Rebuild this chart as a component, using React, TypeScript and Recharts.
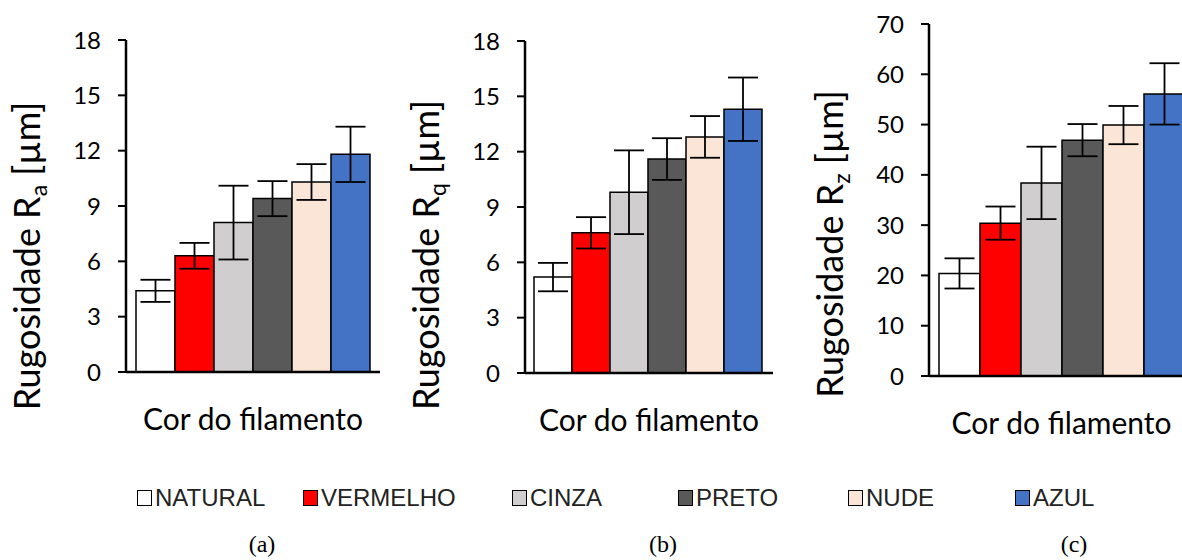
import { BarChart, Bar, XAxis, YAxis, ErrorBar, Label } from 'recharts';

const categories = ['NATURAL', 'VERMELHO', 'CINZA', 'PRETO', 'NUDE', 'AZUL'];

const raValues = [4.4, 6.3, 8.1, 9.4, 10.3, 11.8];
const raErrors = [0.6, 0.7, 2.0, 0.95, 0.97, 1.5];
const rqValues = [5.2, 7.6, 9.8, 11.6, 12.8, 14.3];
const rqErrors = [0.77, 0.85, 2.27, 1.13, 1.13, 1.72];
const rzValues = [20.4, 30.4, 38.4, 46.9, 49.9, 56.1];
const rzErrors = [3.0, 3.3, 7.2, 3.2, 3.8, 6.1];

const ticksR = [0, 3, 6, 9, 12, 15, 18];
const ticksRz = [0, 10, 20, 30, 40, 50, 60, 70];

const xTitle = 'Cor do filamento';
const captions = ['(a)', '(b)', '(c)'];

const fills = ['#ffffff', '#ff0000', '#d0cece', '#595959', '#fbe5d6', '#4472c4'];
const font = 'Lato, "DejaVu Sans", sans-serif';

const buildRow = (values: number[], errors: number[]) => {
  const row: Record<string, number | string> = { name: xTitle };
  categories.forEach((c, i) => {
    row[c] = values[i];
    row[c + '_err'] = errors[i];
  });
  return [row];
};

type PanelProps = {
  values: number[];
  errors: number[];
  ticks: number[];
  sub: string;
  left: number;
  width: number;
  axisW: number;
  top: number;
  xAxisH: number;
  labelShift: number;
  gap: number;
};

const Panel = ({ values, errors, ticks, sub, left, width, axisW, top, xAxisH, labelShift, gap }: PanelProps) => {
  const data = buildRow(values, errors);
  return (
    <div style={{ position: 'absolute', left, top: 0 }}>
      <BarChart
        width={width}
        height={450}
        data={data}
        margin={{ top, right: 10, bottom: 0, left: 0 }}
        barGap={0}
        barCategoryGap={gap}
      >
        <XAxis
          dataKey="name"
          tick={false}
          tickLine={false}
          height={xAxisH}
          axisLine={{ stroke: '#000', strokeWidth: 2.5 }}
        >
          <Label
            content={({ viewBox }: any) => (
              <text
                x={viewBox.x + viewBox.width / 2}
                y={viewBox.y + 58}
                textAnchor="middle"
                fontFamily={font}
                fontSize={30}
                fill="#000"
              >
                {xTitle}
              </text>
            )}
          />
        </XAxis>
        <YAxis
          width={axisW}
          domain={[ticks[0], ticks[ticks.length - 1]]}
          ticks={ticks}
          interval={0}
          tickSize={8}
          tickMargin={17}
          tick={{ fill: '#000', fontSize: 24, fontFamily: font }}
          tickLine={{ stroke: '#000', strokeWidth: 2 }}
          axisLine={{ stroke: '#000', strokeWidth: 2.5 }}
        >
          <Label
            content={({ viewBox }: any) => {
              const x = viewBox.x + viewBox.width - 86;
              const y = viewBox.y + viewBox.height / 2 + labelShift;
              return (
                <text
                  x={x}
                  y={y}
                  transform={`rotate(-90, ${x}, ${y})`}
                  textAnchor="middle"
                  fontFamily={font}
                  fontSize={36}
                  fill="#000"
                >
                  Rugosidade R
                  <tspan dy={7} fontSize={23}>{sub}</tspan>
                  <tspan dy={-7}> [µm]</tspan>
                </text>
              );
            }}
          />
        </YAxis>
        {categories.map((c, i) => (
          <Bar key={c} dataKey={c} fill={fills[i]} stroke="#000" strokeWidth={1.5} isAnimationActive={false}>
            <ErrorBar dataKey={c + '_err'} width={15} stroke="#000" strokeWidth={1.8} isAnimationActive={false} />
          </Bar>
        ))}
      </BarChart>
    </div>
  );
};

const legendX = [137, 303, 512, 678, 848, 1015];
const captionX = [262, 663, 1074];

export default function App() {
  return (
    <div
      style={{
        position: 'absolute',
        left: 0,
        top: 0,
        width: 1182,
        height: 560,
        overflow: 'hidden',
        background: '#fff',
      }}
    >
      <Panel values={raValues} errors={raErrors} ticks={ticksR} sub="a" left={0} width={390} axisW={126} top={40} xAxisH={78} labelShift={50} gap={10} />
      <Panel values={rqValues} errors={rqErrors} ticks={ticksR} sub="q" left={390} width={393} axisW={135} top={41} xAxisH={77} labelShift={48} gap={9} />
      <Panel values={rzValues} errors={rzErrors} ticks={ticksRz} sub="z" left={790} width={414} axisW={139} top={24} xAxisH={74} labelShift={44} gap={10} />

      {categories.map((c, i) => (
        <div
          key={c}
          style={{
            position: 'absolute',
            left: legendX[i],
            top: 484,
            display: 'flex',
            alignItems: 'center',
            fontFamily: '"Liberation Sans", Arial, sans-serif',
            fontSize: 24,
            color: '#222',
          }}
        >
          <span
            style={{
              display: 'inline-block',
              width: 13,
              height: 14,
              border: '1px solid #000',
              background: fills[i],
              marginRight: 3,
            }}
          />
          {c}
        </div>
      ))}

      {captions.map((t, i) => (
        <div
          key={t}
          style={{
            position: 'absolute',
            left: captionX[i] - 30,
            width: 60,
            top: 531,
            textAlign: 'center',
            fontFamily: '"Liberation Serif", "Times New Roman", serif',
            fontSize: 24,
            color: '#000',
          }}
        >
          {t}
        </div>
      ))}
    </div>
  );
}
